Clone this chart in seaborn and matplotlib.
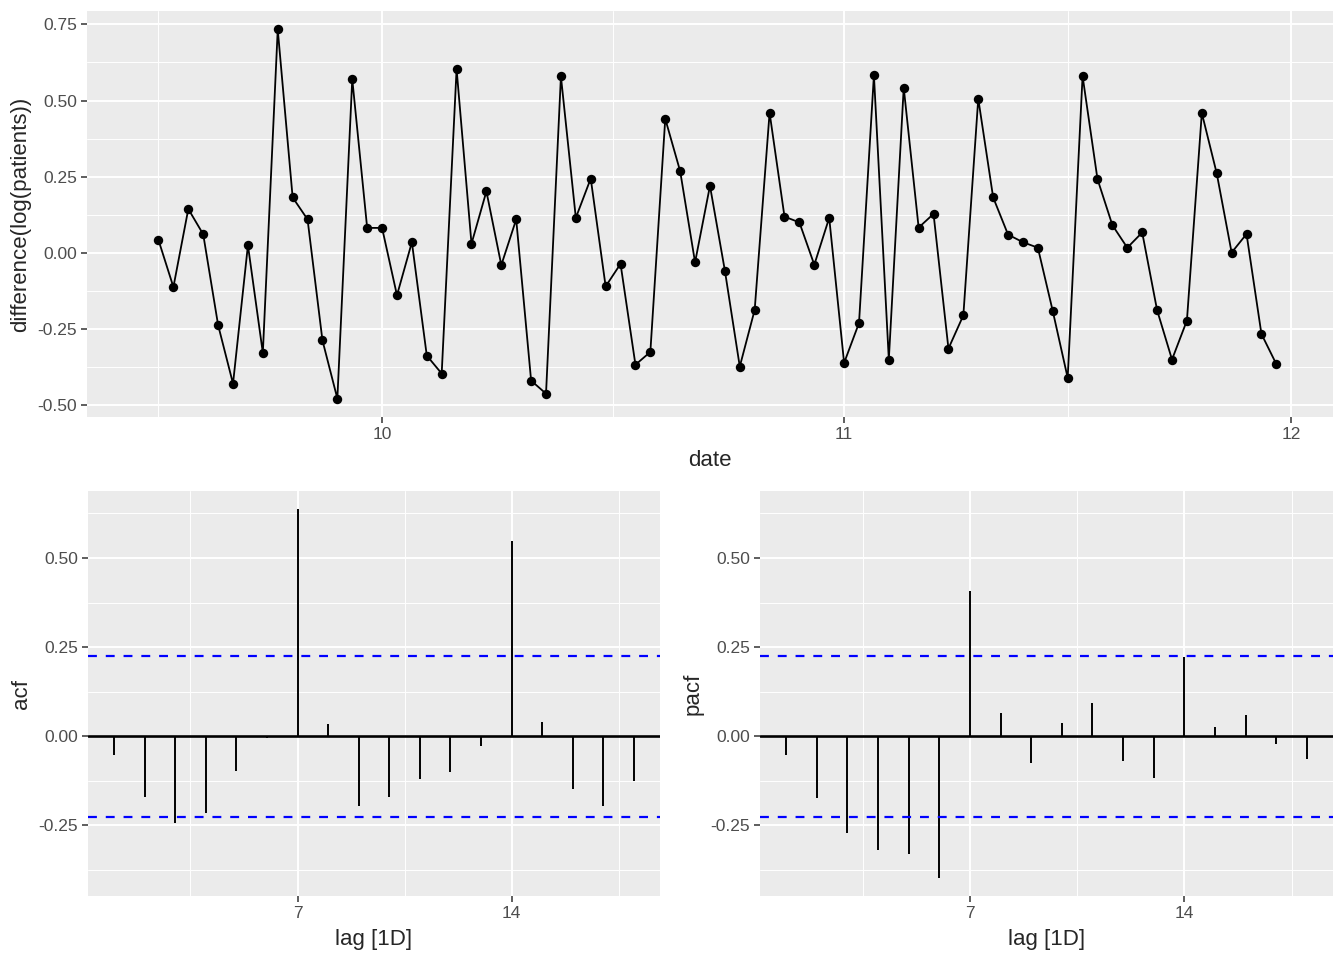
import numpy as np
import pandas as pd
import matplotlib
matplotlib.use("Agg")
import matplotlib.pyplot as plt
import matplotlib.dates as mdates
from matplotlib.ticker import FixedLocator, NullFormatter
import seaborn as sns

# ---------------- data ----------------
start_date = "2020-09-15"
diff_log_patients = [
    np.nan,
    0.042, -0.112, 0.144, 0.061, -0.237, -0.429, 0.025, -0.328, 0.733, 0.182,
    0.110, -0.287, -0.478, 0.570, 0.082, 0.082, -0.139, 0.035, -0.337, -0.396,
    0.603, 0.030, 0.202, -0.040, 0.110, -0.419, -0.462, 0.579, 0.115, 0.244,
    -0.110, -0.036, -0.367, -0.325, 0.440, 0.268, -0.031, 0.220, -0.058, -0.373,
    -0.187, 0.460, 0.119, 0.100, -0.039, 0.115, -0.361, -0.230, 0.583, -0.350,
    0.542, 0.083, 0.128, -0.314, -0.205, 0.506, 0.182, 0.060, 0.035, 0.017,
    -0.191, -0.410, 0.580, 0.242, 0.091, 0.017, 0.067, -0.188, -0.350, -0.222,
    0.459, 0.261, 0.001, 0.062, -0.266, -0.365,
]
lags = list(range(1, 19))
acf_values = [-0.052, -0.170, -0.243, -0.215, -0.096, -0.004, 0.636, 0.035, -0.194,
              -0.169, -0.121, -0.101, -0.026, 0.547, 0.039, -0.149, -0.196, -0.126]
pacf_values = [-0.052, -0.173, -0.271, -0.320, -0.331, -0.396, 0.408, 0.065, -0.076,
               0.038, 0.093, -0.068, -0.118, 0.223, 0.027, 0.061, -0.021, -0.063]
month_ticks = ["2020-10-01", "2020-11-01", "2020-12-01"]
month_labels = ["10", "11", "12"]
lag_ticks = [7, 14]
lag_labels = ["7", "14"]

dates = pd.date_range(start_date, periods=len(diff_log_patients), freq="D")
df = pd.DataFrame({"date": dates, "value": diff_log_patients})
n_obs = df["value"].notna().sum()
ci = 1.96 / np.sqrt(n_obs)

# ---------------- style ----------------
sns.set_style("darkgrid", {"axes.facecolor": "#EBEBEB", "grid.color": "white"})
plt.rcParams["font.family"] = ["Liberation Sans", "DejaVu Sans"]

TICK_COL = "#4D4D4D"
TICK_SIZE = 12.5
TITLE_SIZE = 16


def gg_axes(ax):
    for s in ax.spines.values():
        s.set_visible(False)
    ax.set_facecolor("#EBEBEB")
    ax.grid(True, which="major", color="white", linewidth=1.4)
    ax.grid(True, which="minor", color="white", linewidth=0.7)
    ax.set_axisbelow(True)
    ax.tick_params(which="major", direction="out", length=4, width=1.1,
                   bottom=True, left=True, top=False, right=False,
                   color="#333333", labelcolor=TICK_COL, labelsize=TICK_SIZE, pad=3)
    ax.tick_params(which="minor", length=0, bottom=False, left=False)
    ax.xaxis.set_minor_formatter(NullFormatter())
    ax.yaxis.set_minor_formatter(NullFormatter())


fig = plt.figure(figsize=(13.44, 9.6), dpi=100)
ax_top = fig.add_axes([0.0647, 0.5656, 0.9271, 0.4229])
ax_acf = fig.add_axes([0.0655, 0.0667, 0.4255, 0.4218])
ax_pacf = fig.add_axes([0.5655, 0.0667, 0.4263, 0.4218])

# ---------------- top: time series ----------------
sns.lineplot(data=df, x="date", y="value", ax=ax_top, color="black", linewidth=1.3)
sns.scatterplot(data=df, x="date", y="value", ax=ax_top, color="black", s=46,
                edgecolor="black", linewidth=0, zorder=3)
xnum = mdates.date2num(df["date"])
xr = xnum.max() - xnum.min()
ax_top.set_xlim(xnum.min() - 0.05 * xr, xnum.max() + 0.05 * xr)
vals = df["value"].dropna()
yr = vals.max() - vals.min()
ax_top.set_ylim(vals.min() - 0.05 * yr, vals.max() + 0.05 * yr)
mt = mdates.date2num(pd.to_datetime(month_ticks))
ax_top.xaxis.set_major_locator(FixedLocator(mt))
ax_top.set_xticklabels(month_labels)
sep1 = mdates.date2num(pd.Timestamp("2020-09-01"))
minor_x = [(sep1 + mt[0]) / 2] + [(mt[i] + mt[i + 1]) / 2 for i in range(len(mt) - 1)]
ax_top.xaxis.set_minor_locator(FixedLocator(minor_x))
ax_top.yaxis.set_major_locator(FixedLocator([-0.5, -0.25, 0, 0.25, 0.5, 0.75]))
ax_top.set_yticklabels(["-0.50", "-0.25", "0.00", "0.25", "0.50", "0.75"])
ax_top.yaxis.set_minor_locator(FixedLocator([-0.375, -0.125, 0.125, 0.375, 0.625]))
gg_axes(ax_top)
ax_top.set_xlabel("date", fontsize=TITLE_SIZE, labelpad=6)
ax_top.set_ylabel("difference(log(patients))", fontsize=TITLE_SIZE, labelpad=5)

# ---------------- acf / pacf ----------------
all_vals = acf_values + pacf_values + [ci, -ci]
ylo, yhi = min(all_vals), max(all_vals)
ypad = 0.05 * (yhi - ylo)
lr = max(lags) - min(lags)

for ax, v, name in [(ax_acf, acf_values, "acf"), (ax_pacf, pacf_values, "pacf")]:
    ax.vlines(lags, 0, v, color="black", linewidth=1.4, zorder=3)
    ax.axhline(0, color="black", linewidth=1.9, zorder=3)
    ax.axhline(ci, color="#0000FF", linestyle=(0, (4, 4)), linewidth=1.6, zorder=3)
    ax.axhline(-ci, color="#0000FF", linestyle=(0, (4, 4)), linewidth=1.6, zorder=3)
    ax.set_xlim(min(lags) - 0.05 * lr, max(lags) + 0.05 * lr)
    ax.set_ylim(ylo - ypad, yhi + ypad)
    ax.xaxis.set_major_locator(FixedLocator(lag_ticks))
    ax.set_xticklabels(lag_labels)
    ax.xaxis.set_minor_locator(FixedLocator([3.5, 10.5, 17.5]))
    ax.yaxis.set_major_locator(FixedLocator([-0.25, 0, 0.25, 0.5]))
    ax.set_yticklabels(["-0.25", "0.00", "0.25", "0.50"])
    ax.yaxis.set_minor_locator(FixedLocator([-0.375, -0.125, 0.125, 0.375, 0.625]))
    gg_axes(ax)
    ax.set_xlabel("lag [1D]", fontsize=TITLE_SIZE, labelpad=6)
    ax.set_ylabel(name, fontsize=TITLE_SIZE, labelpad=5)

fig.savefig("out.png", dpi=100)
